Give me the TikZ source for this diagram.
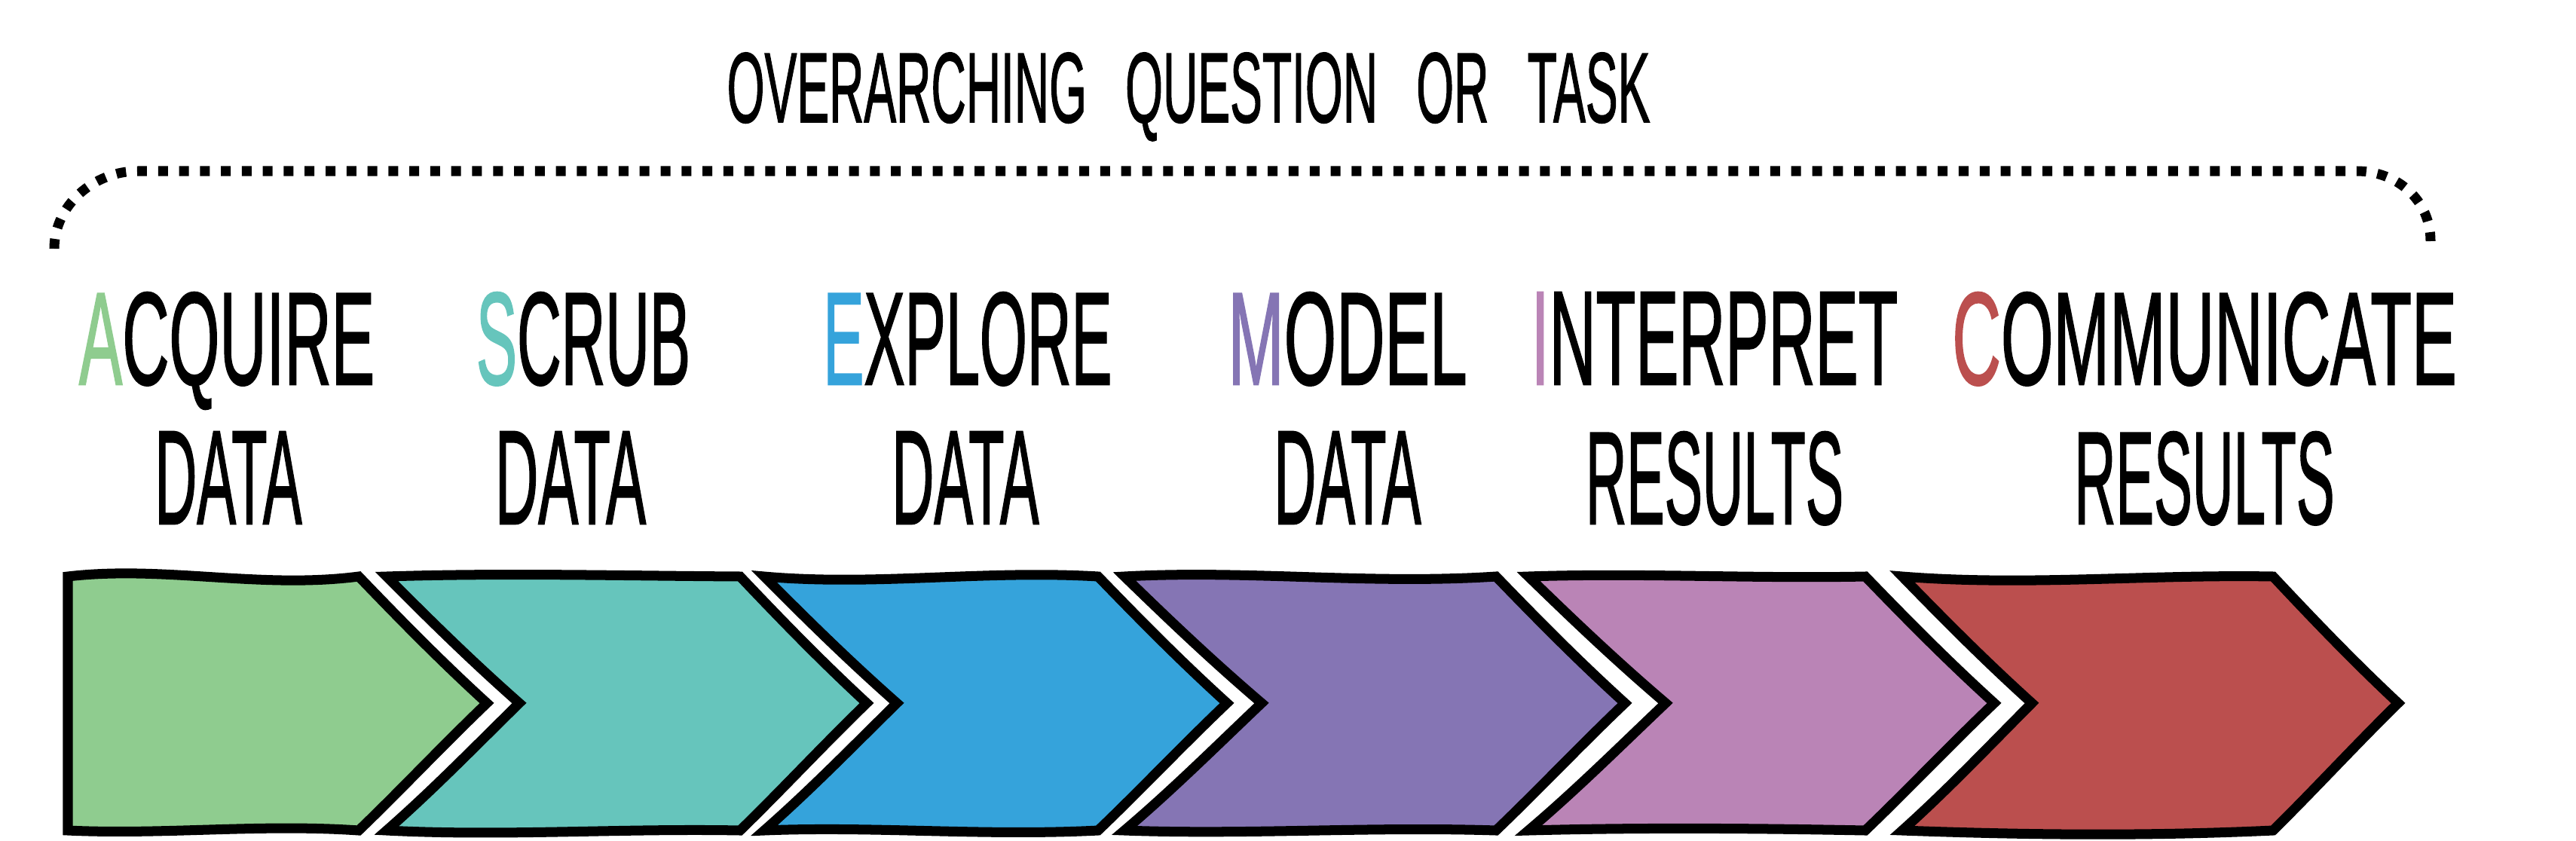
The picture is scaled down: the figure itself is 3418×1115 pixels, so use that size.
\documentclass[tikz,border=0pt]{standalone}
\usepackage{fontspec}
\setmainfont{Liberation Sans}[FakeBold=1.5]
\usepackage{graphicx}
\definecolor{cA}{HTML}{8FCC8F}
\definecolor{cS}{HTML}{66C5BC}
\definecolor{cE}{HTML}{35A3DB}
\definecolor{cM}{HTML}{8575B4}
\definecolor{cI}{HTML}{BA84B6}
\definecolor{cC}{HTML}{BB4F4E}
\tikzset{
  lbl/.style={inner sep=0pt, anchor=base, font=\fontsize{40}{40}\selectfont},
  chevline/.style={line width=3.7pt, line join=miter, draw=black},
  dotline/.style={line width=3.7pt, line cap=butt, dash pattern=on 3.7pt off 4.2pt},
}
\newcommand{\fitt}[2]{\resizebox{#1}{1.22cm}{#2}}
% #1 colour, #2 L, #3 notch, #4 R, #5 tip, #6 #7 top wave, #8 bottom wave
\newcommand{\mychev}[8]{%
  \filldraw[chevline, fill=#1] (#2,765)
    .. controls ({#2+0.33*(#4-#2)},#6) and ({#2+0.66*(#4-#2)},#7) .. (#4,765)
    .. controls ({#4+0.3*(#5-#4)},818) and ({#4+0.62*(#5-#4)},874) .. (#5,933)
    .. controls ({#4+0.65*(#5-#4)},990) and ({#4+0.33*(#5-#4)},1048) .. (#4,1102)
    .. controls ({#2+0.66*(#4-#2)},{1102+0.6*(#6-765)}) and ({#2+0.33*(#4-#2)},{1102+#8}) .. (#2,1102)
    .. controls ({#2+0.35*(#3-#2)},1048) and ({#2+0.67*(#3-#2)},990) .. (#3,933)
    .. controls ({#2+0.62*(#3-#2)},874) and ({#2+0.3*(#3-#2)},818) .. cycle;}
\begin{document}
\begin{tikzpicture}[x=0.01cm, y=-0.01cm]
\path[use as bounding box, fill=white] (0,0) rectangle (3418,1115);

% title
\node[lbl] (title) at (1577,162) {\resizebox{12.24cm}{0.92cm}{OVERARCHING\hspace{0.52em} QUESTION\hspace{0.52em} OR\hspace{0.52em} TASK}};

% dotted bracket
\coordinate (bl) at (72,330);
\coordinate (bla) at (183,227);
\coordinate (bra) at (3127,227);
\coordinate (br) at (3225,320);
\draw[dotline] (bl) .. controls (72,272) and (125,227) .. (bla) -- (bra) .. controls (3180,227) and (3225,265) .. (br);

% labels
\node[lbl] (a1) at (301,510) {\fitt{3.92cm}{\textcolor{cA}{A}CQUIRE}};
\node[lbl] (a2) at (303,695) {\fitt{1.95cm}{DATA}};
\node[lbl] (s1) at (774,510) {\fitt{2.84cm}{\textcolor{cS}{S}CRUB}};
\node[lbl] (s2) at (757,695) {\fitt{2.0cm}{DATA}};
\node[lbl] (e1) at (1284,510) {\fitt{3.83cm}{\textcolor{cE}{E}XPLORE}};
\node[lbl] (e2) at (1281,695) {\fitt{1.95cm}{DATA}};
\node[lbl] (m1) at (1788,510) {\fitt{3.17cm}{\textcolor{cM}{M}ODEL}};
\node[lbl] (m2) at (1788,695) {\fitt{1.95cm}{DATA}};
\node[lbl] (i1) at (2275,510) {\fitt{4.86cm}{\textcolor{cI}{I}NTERPRET}};
\node[lbl] (i2) at (2275,695) {\fitt{3.42cm}{RESULTS}};
\node[lbl] (c1) at (2925,510) {\fitt{6.69cm}{\textcolor{cC}{C}OMMUNICATE}};
\node[lbl] (c2) at (2925,695) {\fitt{3.45cm}{RESULTS}};

% chevrons
\mychev{cA}{90}{90}{476}{646}{750}{782}{6}
\mychev{cS}{513}{689}{982}{1150}{760}{764}{8}
\mychev{cE}{1014}{1190}{1457}{1628}{778}{756}{-6}
\mychev{cM}{1492}{1674}{1985}{2156}{756}{776}{6}
\mychev{cI}{2028}{2210}{2475}{2646}{760}{768}{-4}
\mychev{cC}{2524}{2696}{3016}{3182}{778}{762}{6}
\end{tikzpicture}
\end{document}
